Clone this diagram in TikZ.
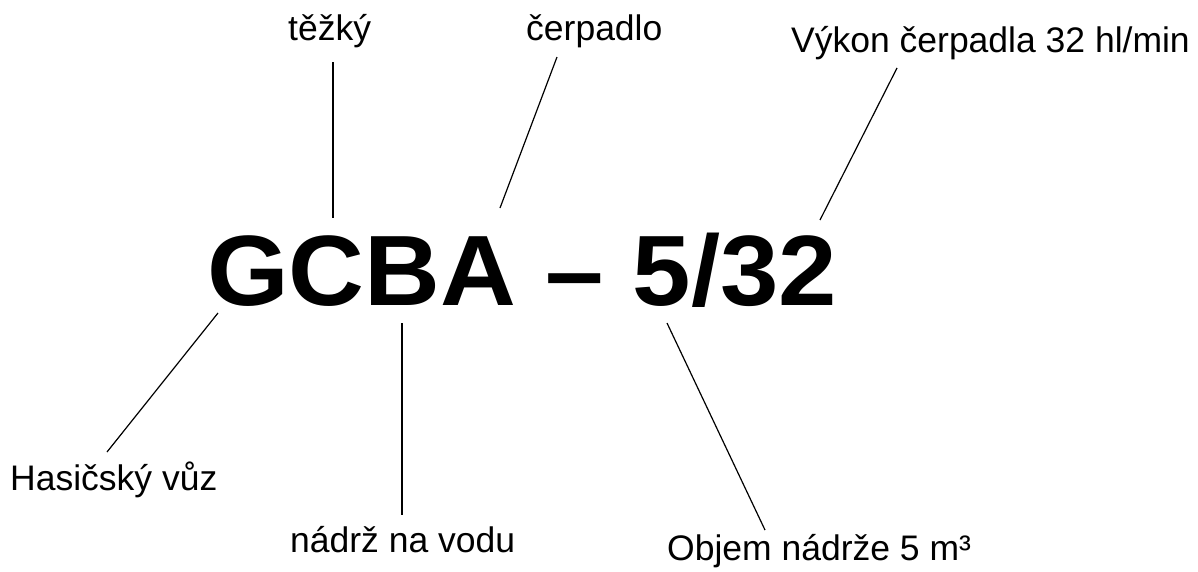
\documentclass[tikz,border=0pt]{standalone}
\usepackage{fontspec}
\setmainfont{Liberation Sans}
\begin{document}
\begin{tikzpicture}[x=1pt,y=-1pt,
  lbl/.style={anchor=base west,inner sep=0pt,font=\fontsize{35.5}{40}\selectfont},
  code/.style={anchor=base west,inner sep=0pt,xscale=1.05,font=\fontsize{100}{110}\selectfont\bfseries},
  lead/.style={draw=black,line width=1.2pt}]
\useasboundingbox (0,0) rectangle (1198,571);
\fill[white] (0,0) rectangle (1198,571);

% designation
\node[code] (gcba) at (207,305) {GCBA – 5/32};

% labels
\node[lbl] (heavy) at (288,40) {těžký};
\node[lbl] (pump)  at (526,40) {čerpadlo};
\node[lbl] (perf)  at (791,52) {Výkon čerpadla 32 hl/min};
\node[lbl] (truck) at (10,490) {Hasičský vůz};
\node[lbl] (tank)  at (290,552) {nádrž na vodu};
\node[lbl] (vol)   at (667,560) {Objem nádrže 5 m³};

% leader ends
\coordinate (h1) at (333,62);  \coordinate (h2) at (333,218);
\coordinate (p1) at (557,57);  \coordinate (p2) at (500,208);
\coordinate (r1) at (897,68);  \coordinate (r2) at (820,220);
\coordinate (t1) at (218,313); \coordinate (t2) at (107,452);
\coordinate (n1) at (402,323); \coordinate (n2) at (402,515);
\coordinate (v1) at (667,323); \coordinate (v2) at (765,530);

\draw[lead] (h1) -- (h2);
\draw[lead] (p1) -- (p2);
\draw[lead] (r1) -- (r2);
\draw[lead] (t1) -- (t2);
\draw[lead] (n1) -- (n2);
\draw[lead] (v1) -- (v2);
\end{tikzpicture}
\end{document}
